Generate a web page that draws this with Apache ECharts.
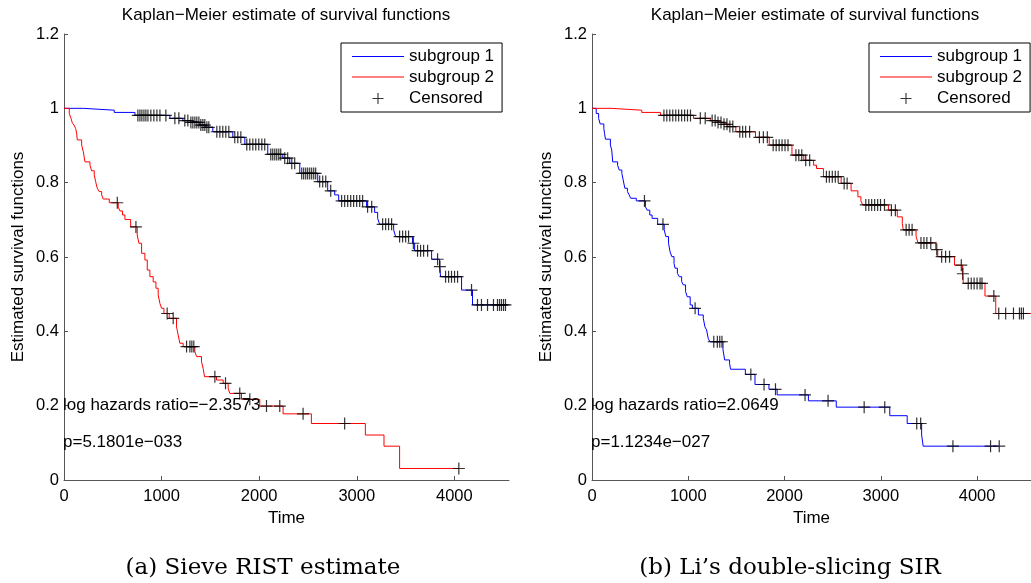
<!DOCTYPE html>
<html>
<head>
<meta charset="utf-8">
<script src="https://cdn.jsdelivr.net/npm/echarts@6/dist/echarts.min.js"></script>
<style>
html,body{margin:0;padding:0;background:#fff;}
#chart{width:1031px;height:583px;}
</style>
</head>
<body>
<div id="chart"></div>
<script>
// ---------- data (time, estimated survival) ----------
const xTicks = [0, 1000, 2000, 3000, 4000];
const yTicks = [0, 0.2, 0.4, 0.6, 0.8, 1, 1.2];

// Panel (a): Sieve RIST estimate
const aGroup1Steps = [[0,1],[198,0.995],[515,0.989],[727,0.981],[1085,0.973],[1218,0.967],[1290,0.962],[1392,0.955],[1453,0.949],[1525,0.937],[1730,0.922],[1853,0.903],[2088,0.876],[2242,0.866],[2313,0.852],[2416,0.825],[2600,0.803],[2702,0.778],[2774,0.767],[2815,0.751],[3101,0.735],[3183,0.72],[3214,0.704],[3234,0.688],[3378,0.673],[3398,0.655],[3572,0.637],[3593,0.617],[3767,0.594],[3849,0.574],[3859,0.547],[4074,0.511],[4186,0.471],[4545,0.471]];
const aGroup1Censored = [[757,0.981],[778,0.981],[798,0.981],[819,0.981],[839,0.981],[860,0.981],[890,0.981],[921,0.981],[952,0.981],[983,0.981],[1044,0.981],[1136,0.973],[1177,0.973],[1238,0.967],[1269,0.967],[1300,0.962],[1320,0.962],[1341,0.962],[1361,0.962],[1382,0.962],[1402,0.955],[1423,0.955],[1443,0.955],[1464,0.949],[1484,0.949],[1566,0.937],[1597,0.937],[1627,0.937],[1658,0.937],[1689,0.937],[1750,0.922],[1781,0.922],[1812,0.922],[1873,0.903],[1904,0.903],[1935,0.903],[1965,0.903],[1996,0.903],[2027,0.903],[2057,0.903],[2119,0.876],[2139,0.876],[2160,0.876],[2180,0.876],[2201,0.876],[2221,0.876],[2262,0.866],[2292,0.866],[2334,0.852],[2364,0.852],[2436,0.825],[2456,0.825],[2477,0.825],[2497,0.825],[2518,0.825],[2538,0.825],[2559,0.825],[2579,0.825],[2620,0.803],[2651,0.803],[2682,0.803],[2733,0.778],[2845,0.751],[2876,0.751],[2907,0.751],[2938,0.751],[2968,0.751],[2999,0.751],[3030,0.751],[3060,0.751],[3111,0.735],[3153,0.735],[3265,0.688],[3296,0.688],[3326,0.688],[3357,0.688],[3439,0.655],[3470,0.655],[3501,0.655],[3531,0.655],[3580,0.637],[3623,0.617],[3654,0.617],[3685,0.617],[3726,0.617],[3828,0.594],[3852,0.574],[3910,0.547],[3941,0.547],[3971,0.547],[4002,0.547],[4033,0.547],[4176,0.511],[4237,0.471],[4278,0.471],[4340,0.471],[4401,0.471],[4442,0.471],[4463,0.471],[4483,0.471],[4504,0.471],[4524,0.471]];
const aGroup2Steps = [[0,1],[54,0.986],[72,0.973],[85,0.961],[102,0.955],[119,0.946],[130,0.933],[136,0.915],[181,0.901],[198,0.883],[215,0.856],[266,0.847],[283,0.832],[310,0.821],[324,0.803],[341,0.785],[361,0.776],[386,0.767],[402,0.756],[464,0.746],[556,0.734],[573,0.724],[600,0.713],[624,0.701],[683,0.681],[750,0.659],[768,0.637],[795,0.610],[829,0.592],[853,0.565],[880,0.547],[914,0.533],[942,0.516],[965,0.498],[983,0.475],[1000,0.462],[1024,0.448],[1078,0.435],[1153,0.412],[1170,0.390],[1187,0.368],[1221,0.359],[1341,0.345],[1358,0.332],[1409,0.318],[1426,0.300],[1440,0.278],[1563,0.269],[1631,0.260],[1682,0.247],[1699,0.233],[1819,0.217],[2006,0.199],[2245,0.178],[2535,0.152],[3088,0.121],[3279,0.091],[3439,0.031],[4046,0.031]];
const aGroup2Censored = [[546,0.746],[737,0.681],[1057,0.448],[1119,0.435],[1256,0.359],[1290,0.359],[1310,0.359],[1330,0.359],[1546,0.278],[1655,0.260],[1801,0.233],[1904,0.217],[2075,0.199],[2211,0.199],[2450,0.178],[2876,0.152],[4046,0.031]];

// Panel (b): Li's double-slicing SIR
const bGroup1Steps = [[0,1],[44,0.986],[69,0.973],[85,0.958],[123,0.946],[130,0.933],[140,0.917],[191,0.901],[205,0.888],[215,0.856],[266,0.847],[283,0.834],[310,0.825],[324,0.807],[341,0.785],[368,0.776],[386,0.767],[402,0.758],[460,0.751],[555,0.735],[573,0.726],[600,0.713],[624,0.704],[682,0.688],[750,0.673],[767,0.655],[795,0.637],[811,0.614],[829,0.601],[852,0.583],[862,0.570],[887,0.556],[907,0.547],[931,0.534],[948,0.525],[972,0.507],[989,0.493],[1020,0.471],[1043,0.462],[1105,0.444],[1156,0.435],[1173,0.412],[1190,0.404],[1207,0.381],[1224,0.372],[1361,0.350],[1378,0.323],[1429,0.314],[1439,0.298],[1593,0.284],[1693,0.257],[1838,0.244],[1923,0.229],[2248,0.213],[2537,0.196],[3093,0.173],[3274,0.152],[3424,0.121],[3440,0.091],[4230,0.091]];
const bGroup1Censored = [[545,0.751],[737,0.688],[1071,0.462],[1265,0.372],[1302,0.372],[1327,0.372],[1350,0.372],[1650,0.284],[1787,0.257],[1906,0.244],[2213,0.229],[2452,0.213],[2827,0.196],[3041,0.196],[3373,0.152],[3414,0.152],[3749,0.091],[4140,0.091],[4230,0.091]];
const bGroup2Steps = [[0,1],[199,0.995],[517,0.989],[711,0.981],[1054,0.973],[1228,0.967],[1289,0.962],[1350,0.957],[1412,0.951],[1494,0.937],[1698,0.922],[1841,0.901],[2077,0.874],[2200,0.860],[2302,0.847],[2332,0.838],[2404,0.816],[2588,0.798],[2691,0.778],[2762,0.762],[2793,0.751],[2813,0.740],[3079,0.726],[3171,0.708],[3223,0.690],[3233,0.673],[3366,0.656],[3386,0.638],[3570,0.620],[3591,0.601],[3765,0.578],[3850,0.555],[3857,0.529],[4082,0.495],[4194,0.448],[4560,0.448]];
const bGroup2Censored = [[747,0.981],[777,0.981],[808,0.981],[839,0.981],[870,0.981],[900,0.981],[931,0.981],[962,0.981],[992,0.981],[1023,0.981],[1125,0.973],[1176,0.973],[1248,0.967],[1279,0.967],[1309,0.962],[1340,0.962],[1371,0.957],[1402,0.957],[1432,0.951],[1463,0.951],[1535,0.937],[1565,0.937],[1596,0.937],[1637,0.937],[1739,0.922],[1780,0.922],[1821,0.922],[1882,0.901],[1913,0.901],[1944,0.901],[1974,0.901],[2005,0.901],[2036,0.901],[2118,0.874],[2148,0.874],[2179,0.874],[2220,0.860],[2261,0.860],[2435,0.816],[2465,0.816],[2496,0.816],[2527,0.816],[2557,0.816],[2619,0.798],[2650,0.798],[2844,0.740],[2875,0.740],[2905,0.740],[2936,0.740],[2967,0.740],[2997,0.740],[3038,0.740],[3110,0.726],[3151,0.726],[3263,0.673],[3294,0.673],[3325,0.673],[3417,0.638],[3448,0.638],[3478,0.638],[3519,0.638],[3581,0.620],[3632,0.601],[3673,0.601],[3714,0.601],[3836,0.578],[3852,0.555],[3908,0.529],[3939,0.529],[3969,0.529],[4000,0.529],[4031,0.529],[4051,0.529],[4174,0.495],[4225,0.448],[4297,0.448],[4378,0.448],[4440,0.448],[4460,0.448],[4481,0.448]];

const titleText = 'Kaplan\u2212Meier estimate of survival functions';
const annotA = ['log hazards ratio=\u22122.3573', 'p=5.1801e\u2212033'];
const annotB = ['log hazards ratio=2.0649', 'p=1.1234e\u2212027'];
const captions = ['(a) Sieve RIST estimate', '(b) Li\u2019s double-slicing SIR'];
const seriesNames = ['subgroup 1', 'subgroup 2', 'Censored'];

// ---------- chart ----------
const FONT = 'Liberation Sans, Arial, Helvetica, sans-serif';
const SERIF = 'DejaVu Serif, Liberation Serif, serif';
const PLUS = 'path://M5.4,0H6.6V5.4H12V6.6H6.6V12H5.4V6.6H0V5.4H5.4Z';
const BLANK = 'path://M0,0H52V11H0Z';
const BLUE = '#0000ff', RED = '#ff0000';

function xAxisCfg(gi) {
  return {
    gridIndex: gi, type: 'value', min: 0, max: 4560,
    name: 'Time', nameLocation: 'middle', nameGap: 24,
    nameTextStyle: {fontFamily: FONT, fontSize: 17, color: '#000'},
    axisLine: {show: true, lineStyle: {color: '#555', width: 1}},
    axisTick: {show: true, inside: true, length: 4, customValues: xTicks, lineStyle: {color: '#555'}},
    axisLabel: {customValues: xTicks, formatter: v => String(v), fontFamily: FONT, fontSize: 16.5, color: '#000', margin: 8},
    splitLine: {show: false}
  };
}
function yAxisCfg(gi) {
  return {
    gridIndex: gi, type: 'value', min: 0, max: 1.2, interval: 0.2,
    name: 'Estimated survival functions', nameLocation: 'middle', nameGap: 37, nameRotate: 90,
    nameTextStyle: {fontFamily: FONT, fontSize: 17, color: '#000'},
    axisLine: {show: true, lineStyle: {color: '#555', width: 1}},
    axisTick: {show: true, inside: true, length: 4, lineStyle: {color: '#555'}},
    axisLabel: {formatter: v => String(+v.toFixed(1)), fontFamily: FONT, fontSize: 16.5, color: '#000', margin: 5},
    splitLine: {show: false}
  };
}
function lineSeries(name, gi, data, color) {
  return {name, type: 'line', xAxisIndex: gi, yAxisIndex: gi, data, step: 'end',
    symbol: 'none', showSymbol: false, lineStyle: {color, width: 1}, itemStyle: {color}, z: 2};
}
function censSeries(gi, data) {
  return {name: 'Censored', type: 'scatter', xAxisIndex: gi, yAxisIndex: gi, data,
    symbol: PLUS, symbolSize: 12, symbolKeepAspect: true, itemStyle: {color: '#000'}, z: 3};
}
function legendCfg(left) {
  return {
    data: [
      {name: seriesNames[0], icon: BLANK, itemStyle: {opacity: 0}},
      {name: seriesNames[1], icon: BLANK, itemStyle: {opacity: 0}},
      {name: seriesNames[2], icon: PLUS, itemStyle: {color: '#000', borderWidth: 0}}
    ],
    left, top: 43, orient: 'vertical',
    padding: [5, 8, 5, 11], itemWidth: 52, itemHeight: 11, itemGap: 4,
    symbolKeepAspect: true,
    borderColor: '#000', borderWidth: 1, backgroundColor: '#fff',
    textStyle: {fontFamily: FONT, fontSize: 17, color: '#000'},
    selectedMode: false
  };
}
// legend line samples for the two survival curves
function legendSample(x, y, color) {
  return {type: 'line', z: 100, shape: {x1: x, y1: y, x2: x + 52, y2: y},
    style: {stroke: color, lineWidth: 1}};
}
function annot(left, top, text) {
  return {type: 'text', left, top, z: 10,
    style: {text, fontFamily: FONT, fontSize: 17, fill: '#000'}};
}

const chart = echarts.init(document.getElementById('chart'), null, {renderer: 'canvas'});
chart.setOption({
  animation: false,
  backgroundColor: '#fff',
  title: [
    {text: titleText, left: 286, top: 7, textAlign: 'center', padding: 0,
     textStyle: {fontFamily: FONT, fontSize: 17, fontWeight: 'normal', color: '#000'}},
    {text: titleText, left: 815, top: 7, textAlign: 'center', padding: 0,
     textStyle: {fontFamily: FONT, fontSize: 17, fontWeight: 'normal', color: '#000'}},
    {text: captions[0], left: 263, top: 557, textAlign: 'center', padding: 0,
     textStyle: {fontFamily: SERIF, fontSize: 23, fontWeight: 'normal', color: '#000'}},
    {text: captions[1], left: 790, top: 557, textAlign: 'center', padding: 0,
     textStyle: {fontFamily: SERIF, fontSize: 23, fontWeight: 'normal', color: '#000'}}
  ],
  legend: [legendCfg(341), legendCfg(869)],
  grid: [
    {left: 64, top: 34, width: 445, height: 446},
    {left: 592, top: 34, width: 446, height: 446}
  ],
  xAxis: [xAxisCfg(0), xAxisCfg(1)],
  yAxis: [yAxisCfg(0), yAxisCfg(1)],
  series: [
    lineSeries('subgroup 1', 0, aGroup1Steps, BLUE),
    lineSeries('subgroup 2', 0, aGroup2Steps, RED),
    censSeries(0, aGroup1Censored.concat(aGroup2Censored)),
    lineSeries('subgroup 1', 1, bGroup1Steps, BLUE),
    lineSeries('subgroup 2', 1, bGroup2Steps, RED),
    censSeries(1, bGroup1Censored.concat(bGroup2Censored))
  ],
  graphic: [
    legendSample(352, 56.5, BLUE), legendSample(352, 77, RED),
    legendSample(880, 56.5, BLUE), legendSample(880, 77, RED),
    annot(63, 397, annotA[0]), annot(63, 434, annotA[1]),
    annot(591, 397, annotB[0]), annot(591, 434, annotB[1])
  ]
});
</script>
</body>
</html>
